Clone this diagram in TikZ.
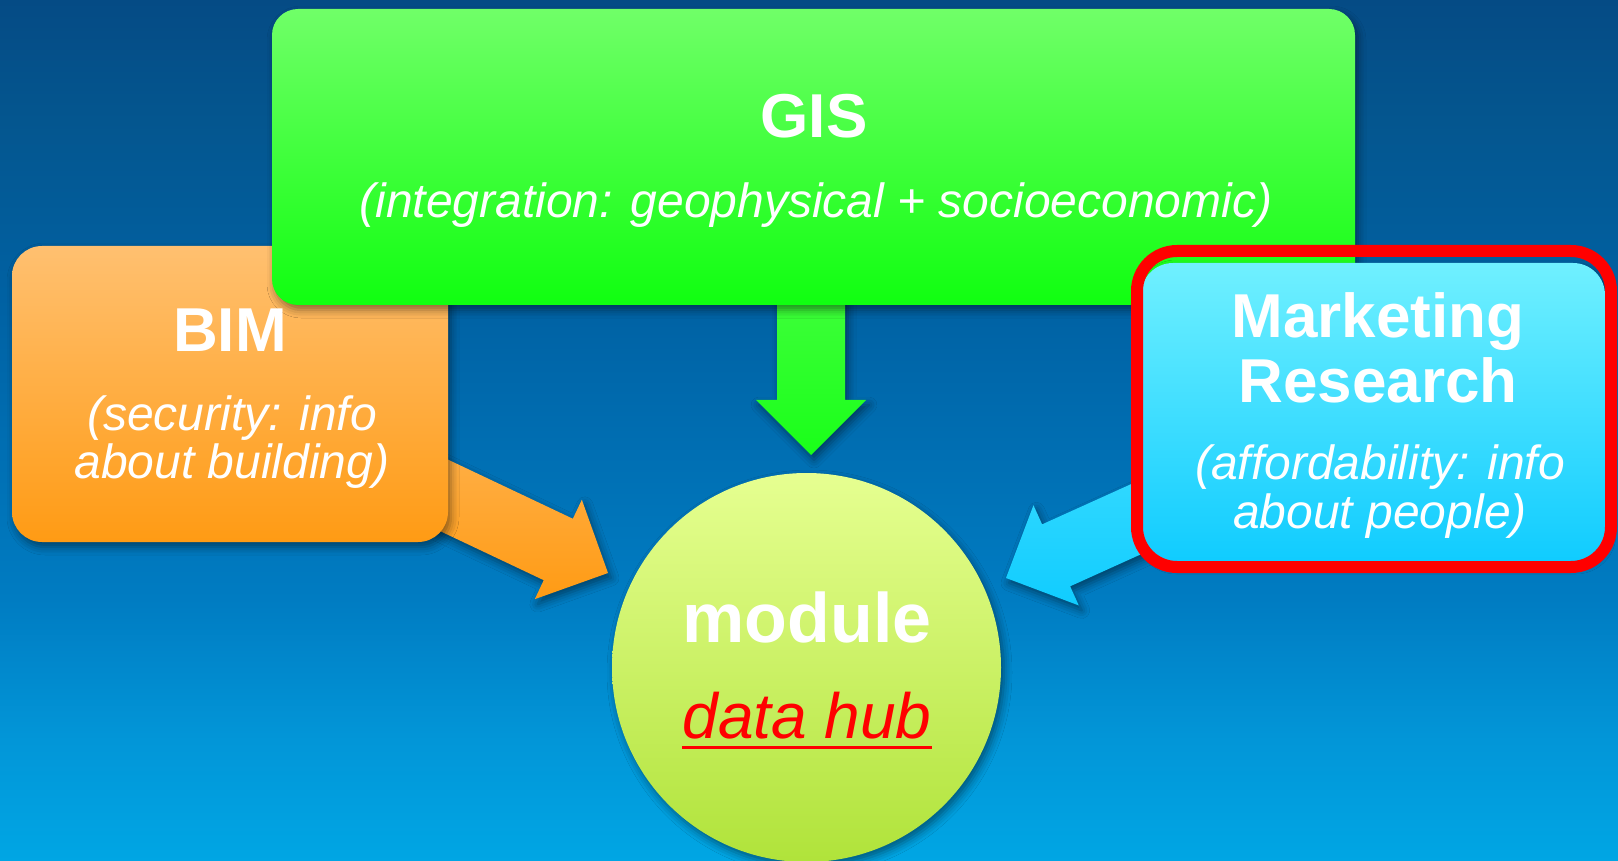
\documentclass[tikz,border=0pt]{standalone}
\usepackage{fontspec}
\setmainfont{Liberation Sans}
\usetikzlibrary{calc,shadows.blur}

% colour palette
\definecolor{skyA}{RGB}{0,166,228}
\definecolor{skyB}{RGB}{2,150,216}
\definecolor{skyC}{RGB}{0,124,194}
\definecolor{skyD}{RGB}{0,98,164}
\definecolor{skyE}{RGB}{4,86,143}
\definecolor{skyF}{RGB}{5,75,133}
\definecolor{orangeTop}{RGB}{255,192,112}
\definecolor{orangeBot}{RGB}{255,155,20}
\definecolor{greenTop}{RGB}{112,255,104}
\definecolor{greenBot}{RGB}{16,255,16}
\definecolor{cyanTop}{RGB}{112,240,255}
\definecolor{cyanBot}{RGB}{16,204,255}
\definecolor{limeTop}{RGB}{230,255,145}
\definecolor{limeBot}{RGB}{176,227,58}
\definecolor{hubred}{RGB}{255,0,0}

% backdrop: dark navy at the top, bright blue at the bottom
\pgfdeclareverticalshading{deepsea}{100bp}{%
  color(0bp)=(skyA); color(25bp)=(skyA); color(32bp)=(skyB);
  color(40.2bp)=(skyC); color(57bp)=(skyD); color(68bp)=(skyE);
  color(75bp)=(skyF); color(100bp)=(skyF)}

% block arrow from #2 (tail) to #3 (tip), drawn with style #1
\newcommand\blockarrow[3]{%
  \coordinate (hb) at ($(#3)!27.5pt!(#2)$);
  \path[#1] (#3)
    -- ($(hb)!27.5pt!90:(#3)$) -- ($(hb)!17pt!90:(#3)$)
    -- ($(#2)!17pt!90:(#3)$) -- ($(#2)!17pt!-90:(#3)$)
    -- ($(hb)!17pt!-90:(#3)$) -- ($(hb)!27.5pt!-90:(#3)$) -- cycle;
}

\tikzset{
  softshadow/.style={blur shadow={shadow xshift=1.5pt, shadow yshift=-2.5pt,
      shadow blur radius=4pt, shadow opacity=45}},
  panel/.style={rectangle, draw=none, softshadow, inner sep=0pt},
  title/.style={text=white, inner sep=0pt, anchor=base,
      font=\fontsize{31pt}{31pt}\selectfont\bfseries},
  note/.style={text=white, inner sep=0pt, anchor=base,
      font=\fontsize{24pt}{24pt}\selectfont\itshape},
  orangefill/.style={top color=orangeTop!85!orangeBot, bottom color=orangeBot, softshadow},
  greenfill/.style={top color=greenTop!80!greenBot, bottom color=greenBot!90!greenTop, softshadow},
  cyanfill/.style={top color=cyanTop!60!cyanBot, bottom color=cyanBot, softshadow},
}

\begin{document}
\begin{tikzpicture}[x=0.5pt, y=-0.5pt]
  \useasboundingbox (0,0) rectangle (1618,861);
  \fill[shading=deepsea] (0,0) rectangle (1618,861);

  % panel centres and arrow tips
  \coordinate (bimC) at (230,394);
  \coordinate (gisC) at (811,157);
  \coordinate (mktC) at (1373,412);
  \coordinate (otip) at (608,573);
  \coordinate (gtip) at (811,455);
  \coordinate (ctip) at (1006,578);

  % BIM panel with its arrow underneath
  \blockarrow{orangefill}{bimC}{otip}
  \node[panel, rounded corners=15pt, minimum width=218pt, minimum height=148pt,
        top color=orangeTop, bottom color=orangeBot] (bim) at (bimC) {};

  % GIS panel with its arrow underneath
  \blockarrow{greenfill}{gisC}{gtip}
  \node[panel, rounded corners=13pt, minimum width=541.5pt, minimum height=148pt,
        top color=greenTop, bottom color=greenBot] (gis) at (813.5,157) {};

  % Marketing panel with its arrow underneath, framed in red
  \blockarrow{cyanfill}{mktC}{ctip}
  \node[panel, rounded corners=16pt, minimum width=232pt, minimum height=149pt,
        top color=cyanTop, bottom color=cyanBot] (mkt) at (mktC) {};
  \node[rectangle, draw=hubred, line width=6pt, rounded corners=20pt,
        minimum width=237pt, minimum height=158pt, inner sep=0pt] (frame) at (1374,409) {};

  % central hub
  \node[circle, draw=none, minimum size=194.5pt, inner sep=0pt, softshadow,
        top color=limeTop, bottom color=limeBot] (hub) at (806.5,667.5) {};

  % labels
  \node[title] (gisT) at (814,138) {GIS};
  \node[note]  (gisN) at (816,218) {(integration: geophysical + socioeconomic)};

  \node[title] (bimT)  at (230,351) {BIM};
  \node[note]  (bimN1) at (232,430) {(security: info};
  \node[note]  (bimN2) at (232,478) {about building)};

  \node[title] (mktT1) at (1378,337) {Marketing};
  \node[title] (mktT2) at (1378,402) {Research};
  \node[note]  (mktN1) at (1380,480) {(affordability: info};
  \node[note]  (mktN2) at (1380,528) {about people)};

  \node[text=white, inner sep=0pt, anchor=base,
        font=\fontsize{35pt}{35pt}\selectfont\bfseries] (modT) at (807,642) {module};
  \node[text=hubred, inner sep=0pt, anchor=base,
        font=\fontsize{32pt}{32pt}\selectfont\itshape] (hubT) at (807,738) {data hub};
  \draw[hubred, line width=1.5pt]
    ([yshift=-4.5pt]hubT.base west) -- ([yshift=-4.5pt]hubT.base east);
\end{tikzpicture}
\end{document}
